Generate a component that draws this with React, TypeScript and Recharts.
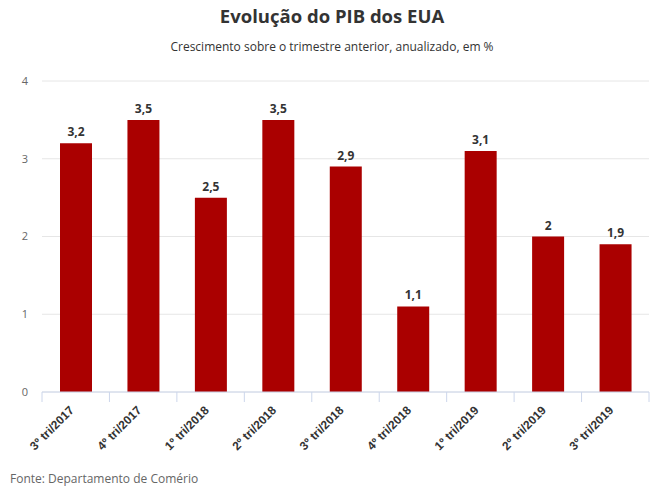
import { BarChart, Bar, XAxis, YAxis, CartesianGrid, LabelList } from 'recharts';

const quarters = [
  '3º tri/2017',
  '4º tri/2017',
  '1º tri/2018',
  '2º tri/2018',
  '3º tri/2018',
  '4º tri/2018',
  '1º tri/2019',
  '2º tri/2019',
  '3º tri/2019',
];
const growth = [3.2, 3.5, 2.5, 3.5, 2.9, 1.1, 3.1, 2, 1.9];
const yTicks = [0, 1, 2, 3, 4];

const data = quarters.map((q, i) => ({ quarter: q, value: growth[i] }));

const W = 664;
const H = 504;
const margin = { top: 81, right: 15, bottom: 32, left: 0 };
const yAxisWidth = 42;
const band = (W - margin.left - margin.right - yAxisWidth) / quarters.length;

const fmt = (v: any) => String(v).replace('.', ',');

function QuarterTick(props: any) {
  const { x, y, payload, index } = props;
  const last = index === quarters.length - 1;
  const lx = x - 1;
  const ly = y + 19;
  return (
    <g>
      <line x1={x - band / 2} x2={x - band / 2} y1={y} y2={y + 10} stroke="#ccd6eb" />
      {last && <line x1={x + band / 2} x2={x + band / 2} y1={y} y2={y + 10} stroke="#ccd6eb" />}
      <text
        x={lx}
        y={ly}
        transform={`rotate(-45, ${lx}, ${ly})`}
        textAnchor="end"
        fill="#333"
        fontSize={12}
        fontWeight="bold"
        fontFamily="'Liberation Sans', Arial, sans-serif"
      >
        {payload.value}
      </text>
    </g>
  );
}

export default function App() {
  return (
    <div style={{ position: 'absolute', left: 0, top: 0, width: W, height: H, background: '#fff', fontFamily: "'Open Sans', sans-serif" }}>
      <div style={{ position: 'absolute', top: 3, left: 0, width: W, textAlign: 'center', fontSize: 18.5, fontWeight: 700, color: '#333' }}>
        Evolução do PIB dos EUA
      </div>
      <div style={{ position: 'absolute', top: 38, left: 0, width: W, textAlign: 'center', fontSize: 12, color: '#333' }}>
        Crescimento sobre o trimestre anterior, anualizado, em %
      </div>
      <BarChart width={W} height={H} data={data} margin={margin}>
        <CartesianGrid vertical={false} stroke="#e6e6e6" />
        <XAxis
          dataKey="quarter"
          axisLine={{ stroke: '#ccd6eb' }}
          tickLine={false}
          tickSize={0}
          tickMargin={0}
          height={80}
          interval={0}
          tick={<QuarterTick />}
        />
        <YAxis
          width={yAxisWidth}
          domain={[0, 4]}
          ticks={yTicks}
          axisLine={false}
          tickLine={false}
          tickSize={0}
          tickMargin={14}
          tick={{ fill: '#666', fontSize: 11, fontFamily: "'Open Sans', sans-serif" }}
        />
        <Bar dataKey="value" fill="#aa0000" barSize={32} isAnimationActive={false}>
          <LabelList
            dataKey="value"
            position="top"
            offset={7}
            formatter={fmt}
            fill="#333"
            fontSize={12}
            fontWeight="bold"
            fontFamily="'Open Sans', sans-serif"
          />
        </Bar>
      </BarChart>
      <div style={{ position: 'absolute', top: 470, left: 10, fontSize: 12, color: '#666' }}>
        Fonte: Departamento de Comério
      </div>
    </div>
  );
}
